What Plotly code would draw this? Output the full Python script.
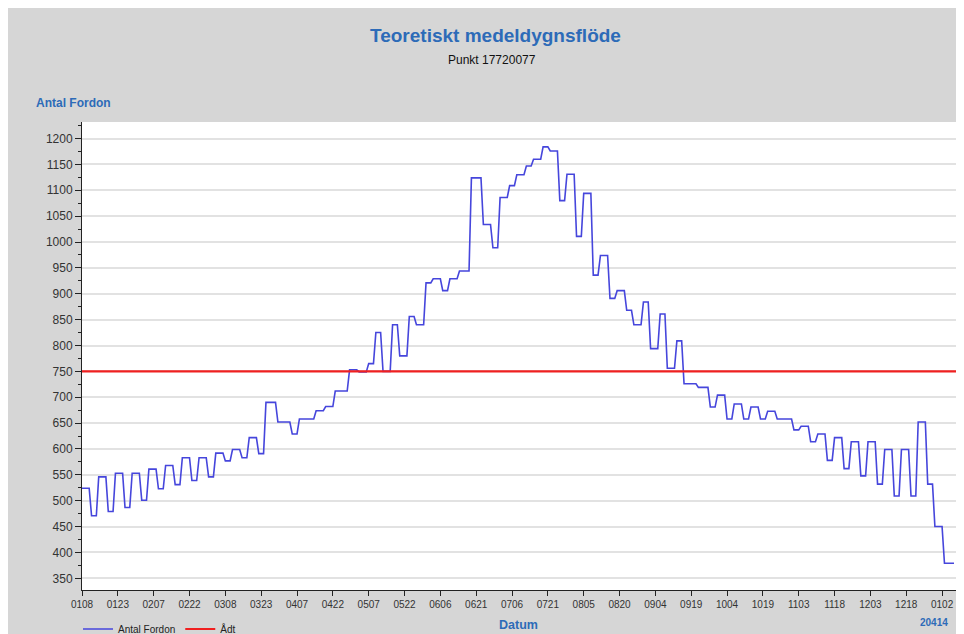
import pandas as pd
import plotly.graph_objects as go

# ---- data ----
start_date = "2008-01-08"
# daily flow given as runs: each level value holds for the given number of days
run_values = [524, 471, 546, 479, 553, 487, 553, 501, 561, 523, 568, 531, 583, 539, 583, 546,
              592, 577, 599, 583, 622, 591,
              690, 652, 629, 658, 674, 682, 712, 753, 749, 765, 825, 750, 840, 780, 856, 840,
              921, 929, 906, 929, 944,
              1124, 1034, 989, 1086, 1109, 1130, 1147, 1160, 1184, 1176, 1080, 1131, 1011, 1094,
              936, 974, 891, 906, 868, 840, 884, 794, 861, 756, 809, 726, 719,
              681, 704, 658, 687, 658, 681, 658, 673, 658, 637, 644, 614, 629, 578, 622, 562,
              614, 548, 614, 532, 599, 509, 599, 509, 652, 532, 450, 379]
run_days = [4, 3, 4, 3, 4, 3, 4, 3, 4, 3, 4, 3, 4, 3, 4, 3,
            4, 3, 4, 3, 4, 3,
            5, 6, 3, 7, 4, 4, 6, 4, 4, 3, 3, 4, 3, 4, 3, 4,
            3, 4, 3, 4, 5,
            5, 4, 3, 4, 3, 4, 3, 4, 3, 4, 3, 4, 3, 4,
            3, 4, 3, 4, 3, 4, 3, 4, 3, 4, 3, 6, 5,
            3, 4, 3, 4, 3, 4, 3, 4, 7, 3, 4, 3, 4, 3, 4, 3,
            4, 3, 4, 3, 4, 3, 4, 3, 4, 3, 4, 5]
adt_value = 750
y_tick_values = [350, 400, 450, 500, 550, 600, 650, 700, 750, 800, 850, 900,
                 950, 1000, 1050, 1100, 1150, 1200]

n_days = sum(run_days)
dates = pd.date_range(start_date, periods=n_days, freq="D")
flow = [v for v, n in zip(run_values, run_days) for _ in range(n)]

# ---- layout geometry (page has an 8px body margin) ----
OFF = 8
W, H = 964 - OFF, 634 - OFF
ML, MR, MT, MB = 74, 7, 114, 44
PW, PH = W - ML - MR, H - MT - MB


def px(xp):
    """page x pixel -> paper coordinate"""
    return (xp - OFF - ML) / PW


def py(yp):
    """page y pixel -> paper coordinate"""
    return (H - MB - (yp - OFF)) / PH


def cx(xp):
    """page x pixel -> container coordinate"""
    return (xp - OFF) / W


def cy(yp):
    """page y pixel -> container coordinate"""
    return 1 - (yp - OFF) / H


BLUE_TXT = "#2d6bb8"
GRAY_BG = "#d6d6d6"

fig = go.Figure()
fig.add_trace(go.Scatter(x=dates, y=flow, mode="lines", name="Antal Fordon",
                         line=dict(color="#4646dc", width=1.6)))
fig.add_trace(go.Scatter(x=[dates[0], dates[-1] + pd.Timedelta(days=2)],
                         y=[adt_value, adt_value], mode="lines", name="Ådt",
                         line=dict(color="#f02020", width=2.2)))

fig.update_layout(
    width=W, height=H,
    margin=dict(l=ML, r=MR, t=MT, b=MB, pad=0, autoexpand=False),
    paper_bgcolor=GRAY_BG,
    plot_bgcolor="white",
    font=dict(family="Liberation Sans, Arial, sans-serif", color="#333333", size=11),
    showlegend=True,
    legend=dict(orientation="h", xref="container", yref="container",
                x=cx(78), y=cy(629), xanchor="left", yanchor="middle",
                bgcolor="rgba(0,0,0,0)", font=dict(size=10, color="#222222"),
                itemwidth=30, tracegroupgap=0),
    annotations=[
        dict(text="<b>Teoretiskt medeldygnsflöde</b>", xref="paper", yref="paper",
             x=px(495), y=py(35), showarrow=False, xanchor="center", yanchor="middle",
             font=dict(size=19, color=BLUE_TXT)),
        dict(text="Punkt 17720077", xref="paper", yref="paper",
             x=px(492), y=py(60), showarrow=False, xanchor="center", yanchor="middle",
             font=dict(size=12, color="#111111")),
        dict(text="<b>Antal Fordon</b>", xref="paper", yref="paper",
             x=px(34), y=py(103), showarrow=False, xanchor="left", yanchor="middle",
             font=dict(size=12, color=BLUE_TXT)),
        dict(text="<b>Datum</b>", xref="paper", yref="paper",
             x=px(518), y=py(625), showarrow=False, xanchor="center", yanchor="middle",
             font=dict(size=12.5, color=BLUE_TXT)),
        dict(text="<b>20414</b>", xref="paper", yref="paper",
             x=px(934), y=py(622), showarrow=False, xanchor="center", yanchor="middle",
             font=dict(size=10, color=BLUE_TXT)),
    ],
)

fig.update_xaxes(
    type="date",
    range=[dates[0], dates[-1] + pd.Timedelta(hours=30)],
    tick0=start_date, dtick=15 * 86400000, tickformat="%m%d",
    showgrid=False, zeroline=False, automargin=False,
    showline=True, linecolor="#222222", linewidth=1,
    ticks="outside", ticklen=5, tickcolor="#222222",
    tickfont=dict(size=10, color="#333333"),
)
fig.update_yaxes(
    range=[327.4, 1232],
    tickvals=y_tick_values, automargin=False,
    showgrid=True, gridcolor="#e2e2e2", gridwidth=1.5,
    zeroline=False,
    showline=True, linecolor="#222222", linewidth=1,
    ticks="outside", ticklen=6, tickcolor="#222222",
    tickfont=dict(size=12, color="#333333"),
    minor=dict(dtick=25, tick0=0, ticks="outside", ticklen=3, tickcolor="#222222",
               showgrid=False),
)

fig.write_html("out.html")
